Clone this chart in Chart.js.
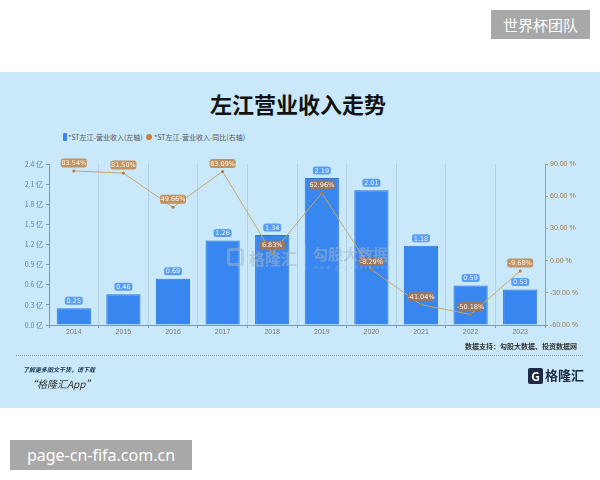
<!DOCTYPE html>
<html>
<head>
<meta charset="utf-8">
<script src="https://cdn.jsdelivr.net/npm/chart.js@4/dist/chart.umd.min.js"></script>
<style>
  html, body { margin: 0; padding: 0; background: #fff; }
  body { width: 600px; height: 480px; position: relative; overflow: hidden;
         font-family: "Noto Sans CJK SC", "Noto Sans", sans-serif; }
  .abs { position: absolute; white-space: nowrap; }
  #panel { left: 0; top: 72px; width: 600px; height: 336px; background: #c9e9fb; }
  #title { left: 0; width: 596px; top: 90px; text-align: center; font-size: 22px;
           font-weight: bold; color: #111; line-height: 26px; }
  .lg { font-size: 7px; color: #555; top: 132px; line-height: 10px; }
  #chartBox { left: 0; top: 150px; width: 600px; height: 200px; }
  .wm { color: rgba(165,180,200,0.55); font-weight: bold; }
  .tag { background: #a8a8a8; color: #fff; }
</style>
</head>
<body>
<div id="panel" class="abs"></div>
<div id="title" class="abs">左江营业收入走势</div>

<div class="abs" style="left:63px;top:133px;width:4px;height:8px;border-radius:1px;background:#3a87f2;"></div>
<div class="abs lg" style="left:68px;">*ST左江-营业收入(左轴)</div>
<div class="abs" style="left:146px;top:134px;width:6px;height:6px;border-radius:3px;background:#c9803a;"></div>
<div class="abs lg" style="left:154px;">*ST左江-营业收入-同比(右轴)</div>

<div id="chartBox" class="abs"><canvas id="chart" width="600" height="200"></canvas></div>

<!-- faint watermarks over the plot -->
<div class="abs" style="left:227px;top:248px;width:17px;height:18px;border:3px solid rgba(165,180,200,0.5);border-radius:3px;box-sizing:border-box;"></div>
<div class="abs wm" style="left:249px;top:246px;font-size:16px;">格隆汇</div>
<div class="abs" style="left:305px;top:244px;width:1px;height:26px;background:rgba(165,180,200,0.45);"></div>
<div class="abs wm" style="left:313px;top:243px;font-size:15px;">勾股大数据</div>
<div class="abs wm" style="left:314px;top:263px;font-size:5px;letter-spacing:2px;font-weight:normal;">www.gogudata.com</div>

<!-- footer -->
<div class="abs" style="left:465px;top:341px;font-size:7px;font-weight:bold;color:#333;">数据支持：勾股大数据、投资数据网</div>
<div class="abs" style="left:16px;top:355px;width:567px;border-top:1px dotted #8796a4;"></div>
<div class="abs" style="left:23px;top:365px;font-size:6px;font-weight:bold;font-style:italic;color:#1c3550;">了解更多图文干货，请下载</div>
<div class="abs" style="left:27px;top:376px;font-size:10px;font-style:italic;color:#333;">“格隆汇App”</div>
<div class="abs" style="left:528px;top:368px;width:15px;height:16px;background:#1d2a44;border-radius:2px;color:#fff;font-size:12px;font-weight:bold;line-height:16px;text-align:center;">G</div>
<div class="abs" style="left:545px;top:365px;font-size:13px;font-weight:bold;color:#1d2a44;">格隆汇</div>

<div class="abs tag" style="left:491px;top:10px;width:99px;height:29px;font-size:15px;line-height:29px;text-align:center;">世界杯团队</div>
<div class="abs tag" style="left:10px;top:440px;width:182px;height:30px;font-size:16px;line-height:30px;text-align:center;font-family:'Noto Sans',sans-serif;">page-cn-fifa.com.cn</div>

<script>
const years = ['2014', '2015', '2016', '2017', '2018', '2019', '2020', '2021', '2022', '2023'];
const revenue = [0.25, 0.46, 0.69, 1.26, 1.34, 2.19, 2.01, 1.18, 0.59, 0.53];   // 亿元
const yoyGrowth = [83.54, 81.50, 49.66, 83.09, 6.83, 62.96, -8.29, -41.04, -50.18, -9.68]; // %

function roundBox(ctx, cx, cy, w, h, fill, text, textColor) {
    ctx.save();
    ctx.fillStyle = fill;
    ctx.beginPath();
    ctx.roundRect(cx - w / 2, cy - h / 2, w, h, 2.5);
    ctx.fill();
    ctx.fillStyle = textColor;
    ctx.font = '6.5px "DejaVu Sans", sans-serif';
    ctx.textAlign = 'center';
    ctx.textBaseline = 'middle';
    ctx.fillText(text, cx, cy + 0.5);
    ctx.restore();
}

// value tags above bars and line points
const valueTags = {
    id: 'valueTags',
    afterDatasetsDraw(chart) {
        const ctx = chart.ctx;
        const barMeta = chart.getDatasetMeta(1);
        barMeta.data.forEach((bar, i) => {
            roundBox(ctx, bar.x, bar.y - 7.5, 18, 8, '#5a9ef2', revenue[i].toFixed(2), '#eaf3ff');
        });
        const lineMeta = chart.getDatasetMeta(0);
        lineMeta.data.forEach((pt, i) => {
            roundBox(ctx, pt.x, pt.y - 8, 26, 9, 'rgba(190,115,45,0.72)', yoyGrowth[i].toFixed(2) + '%', '#fff4e4');
        });
    }
};

new Chart(document.getElementById('chart'), {
    data: {
        labels: years,
        datasets: [
            {
                type: 'line',
                label: '*ST左江-营业收入-同比(右轴)',
                data: yoyGrowth,
                yAxisID: 'y1',
                borderColor: '#c9a56a',
                borderWidth: 1,
                pointRadius: 1.5,
                pointBackgroundColor: '#b4783e',
                pointBorderWidth: 0,
                tension: 0,
                order: 0
            },
            {
                type: 'bar',
                label: '*ST左江-营业收入(左轴)',
                data: revenue,
                yAxisID: 'y',
                backgroundColor: '#3886f0',
                borderColor: '#2d74da',
                borderWidth: 1,
                categoryPercentage: 1,
                barPercentage: 0.69,
                order: 1
            }
        ]
    },
    options: {
        responsive: false,
        animation: false,
        layout: { padding: { top: 14, left: 0, right: 0, bottom: 0 } },
        plugins: {
            legend: { display: false },
            tooltip: { enabled: false }
        },
        scales: {
            x: {
                grid: { color: 'rgba(130,160,190,0.3)', tickLength: 3, tickColor: '#7b98b3', offset: true },
                border: { color: '#7b98b3' },
                ticks: { color: '#777', font: { size: 7 }, padding: 0, maxRotation: 0 },
                afterFit: s => { s.height = 25; }
            },
            y: {
                position: 'left',
                min: 0,
                max: 2.4,
                grid: { drawOnChartArea: false, tickLength: 3, tickColor: '#7b98b3' },
                border: { color: '#7b98b3' },
                ticks: {
                    stepSize: 0.3,
                    color: '#5b7ea4',
                    font: { size: 7, family: '"Noto Sans CJK SC", sans-serif' },
                    padding: 3,
                    callback: v => v.toFixed(1) + ' 亿'
                },
                afterFit: s => { s.width = 49; }
            },
            y1: {
                position: 'right',
                min: -60,
                max: 90,
                grid: { drawOnChartArea: false, tickLength: 3, tickColor: '#b49a6c' },
                border: { color: '#b49a6c' },
                ticks: {
                    stepSize: 30,
                    color: '#a07a45',
                    font: { size: 7 },
                    padding: 2,
                    callback: v => v.toFixed(2) + ' %'
                },
                afterFit: s => { s.width = 55; }
            }
        }
    },
    plugins: [valueTags]
});
</script>
</body>
</html>
